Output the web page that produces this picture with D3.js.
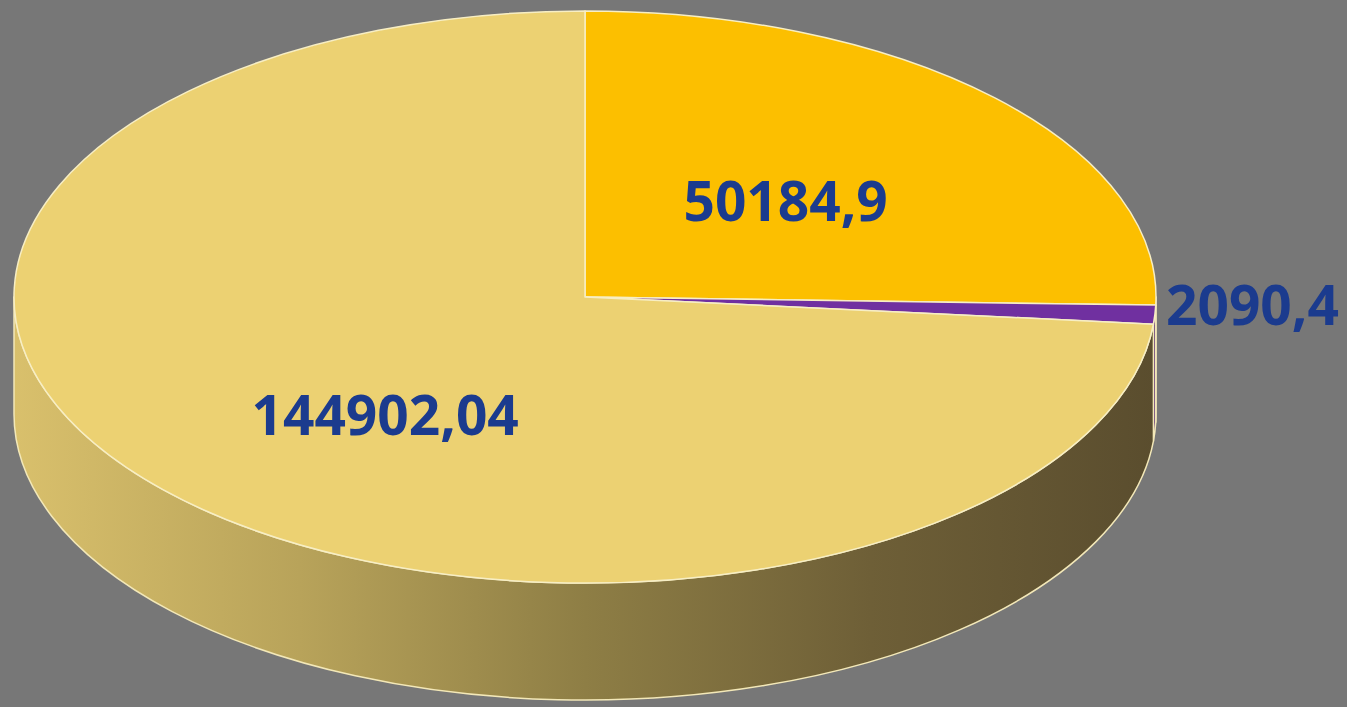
<!DOCTYPE html>
<meta charset="utf-8">
<style>
body { margin: 0; background: #777777; }
svg { display: block; }
.label { font-family: "Open Sans", sans-serif; font-weight: 700; font-size: 55px; fill: #1b3b8e; }
</style>
<body>
<script src="https://d3js.org/d3.v7.min.js"></script>
<script>

var categories = ["A", "B", "C"];
var values = [50184.9, 2090.4, 144902.04];
var labels = ["50184,9", "2090,4", "144902,04"];
var topColors = ["#fcbf00", "#7030a0", "#ecd172"];
var sideColors = ["#a57d00", "#4b1f6d", "url(#sideGrad)"];

var width = 1347, height = 707;
var cx = 585, cy = 297, rx = 571, ry = 286, depth = 117;

var svg = d3.select("body").append("svg")
    .attr("width", width)
    .attr("height", height);

var defs = svg.append("defs");
var grad = defs.append("linearGradient")
    .attr("id", "sideGrad")
    .attr("gradientUnits", "userSpaceOnUse")
    .attr("x1", cx - rx).attr("x2", cx + rx)
    .attr("y1", 0).attr("y2", 0);
[[0, "#d9c06c"], [0.25, "#b8a35a"], [0.5, "#8e7e45"], [0.75, "#6e5f37"], [1, "#5a4d2e"]].forEach(function(s) {
  grad.append("stop").attr("offset", s[0]).attr("stop-color", s[1]);
});

var pie = d3.pie().sort(null).startAngle(0).endAngle(2 * Math.PI);
var arcs = pie(values);

function px(a, f) { return cx + rx * (f || 1) * Math.sin(a); }
function py(a, f) { return cy - ry * (f || 1) * Math.cos(a); }

// walls: only the front half (pi/2 .. 3pi/2) shows
function wall(d) {
  var a0 = Math.max(d.startAngle, Math.PI / 2),
      a1 = Math.min(d.endAngle, 3 * Math.PI / 2);
  if (a1 <= a0) return null;
  var large = (a1 - a0) > Math.PI ? 1 : 0;
  return "M" + px(a0) + "," + py(a0) +
    "A" + rx + "," + ry + " 0 " + large + " 1 " + px(a1) + "," + py(a1) +
    "L" + px(a1) + "," + (py(a1) + depth) +
    "A" + rx + "," + ry + " 0 " + large + " 0 " + px(a0) + "," + (py(a0) + depth) + "Z";
}

function slice(d) {
  var large = (d.endAngle - d.startAngle) > Math.PI ? 1 : 0;
  return "M" + cx + "," + cy +
    "L" + px(d.startAngle) + "," + py(d.startAngle) +
    "A" + rx + "," + ry + " 0 " + large + " 1 " + px(d.endAngle) + "," + py(d.endAngle) + "Z";
}

svg.selectAll(".wall")
    .data(arcs.filter(function(d) { return wall(d); }))
  .enter().append("path")
    .attr("class", "wall")
    .attr("d", wall)
    .attr("fill", function(d) { return sideColors[d.index]; })
    .attr("stroke", "#f3e8b8")
    .attr("stroke-width", 1.5)
    .attr("stroke-linejoin", "round");

svg.selectAll(".slice")
    .data(arcs)
  .enter().append("path")
    .attr("class", "slice")
    .attr("d", slice)
    .attr("fill", function(d) { return topColors[d.index]; })
    .attr("stroke", "#f7eec4")
    .attr("stroke-width", 1.5)
    .attr("stroke-linejoin", "round");

// labels
svg.selectAll(".label")
    .data(arcs)
  .enter().append("text")
    .attr("class", "label")
    .attr("text-anchor", function(d) { return d.index === 1 ? "start" : "middle"; })
    .attr("x", function(d) {
      var m = (d.startAngle + d.endAngle) / 2;
      if (d.index === 1) return cx + rx + 10;
      return px(m, d.index === 0 ? 0.49 : 0.473);
    })
    .attr("y", function(d) {
      var m = (d.startAngle + d.endAngle) / 2;
      if (d.index === 1) return py(m) + 10;
      if (d.index === 0) return py(m, 0.49) + 22;
      return py(m, 0.473) + 47;
    })
    .text(function(d) { return labels[d.index]; });

</script>
